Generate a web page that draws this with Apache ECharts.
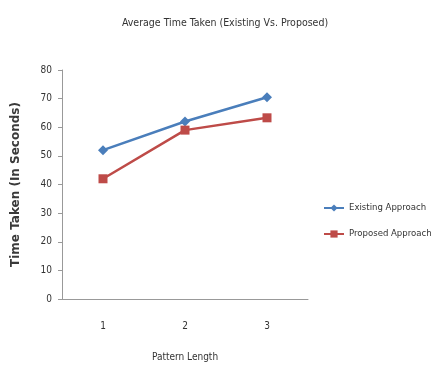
<!DOCTYPE html>
<html><head><meta charset="utf-8">
<script src="https://cdn.jsdelivr.net/npm/echarts@6/dist/echarts.min.js"></script>
<style>html,body{margin:0;padding:0;background:#fff}#c{width:432px;height:367px}</style>
</head><body><div id="c"></div>
<script>
const categories = ['1', '2', '3'];
const existing = [52, 62, 70.5];
const proposed = [42, 59, 63.3];
const seriesNames = ['Existing Approach', 'Proposed Approach'];
const FONT = "'Liberation Sans Narrow', 'DejaVu Sans Condensed', 'Liberation Sans', sans-serif";
const chart = echarts.init(document.getElementById('c'));
chart.setOption({
  animation: false,
  backgroundColor: '#fff',
  title: { text: 'Average Time Taken (Existing Vs. Proposed)', left: 220, textAlign: 'center', top: 13,
    textStyle: { fontFamily: FONT, fontSize: 10.5, fontWeight: 'normal', color: '#333' } },
  legend: { orient: 'vertical', left: 318, top: 198, itemGap: 16, itemWidth: 20, itemHeight: 9,
    textStyle: { fontFamily: FONT, fontSize: 9.5, color: '#333' }, data: seriesNames },
  grid: { left: 62, top: 70, right: 124, bottom: 63 },
  xAxis: { type: 'category', data: categories, boundaryGap: true,
    name: 'Pattern Length', nameLocation: 'middle', nameGap: 53,
    nameTextStyle: { fontFamily: FONT, fontSize: 10, color: '#333' },
    axisLine: { lineStyle: { color: '#999' } }, axisTick: { show: false },
    axisLabel: { margin: 22, fontFamily: FONT, fontSize: 10, color: '#333' } },
  yAxis: { type: 'value', min: 0, max: 80, interval: 10,
    name: 'Time Taken (In Seconds)', nameLocation: 'middle', nameGap: 40,
    nameTextStyle: { fontFamily: "'DejaVu Sans', sans-serif", fontSize: 12, fontWeight: 'bold', color: '#3a3a3a' },
    axisLine: { show: true, lineStyle: { color: '#999' } },
    axisTick: { show: true, inside: false, length: 4, lineStyle: { color: '#999' } },
    splitLine: { show: false },
    axisLabel: { margin: 10, fontFamily: FONT, fontSize: 10, color: '#333' } },
  series: [
    { name: seriesNames[0], type: 'line', data: existing, symbol: 'diamond', symbolSize: 10,
      itemStyle: { color: '#4A7EBB' }, lineStyle: { width: 2.5, color: '#4A7EBB' } },
    { name: seriesNames[1], type: 'line', data: proposed, symbol: 'rect', symbolSize: 9,
      itemStyle: { color: '#BE4B48' }, lineStyle: { width: 2.5, color: '#BE4B48' } }
  ]
});
</script></body></html>
